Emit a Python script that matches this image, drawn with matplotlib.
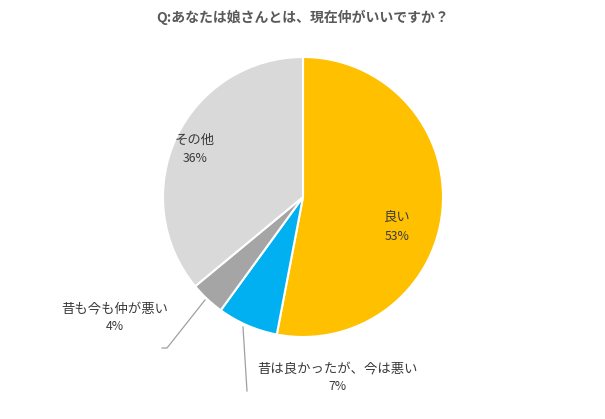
import matplotlib
matplotlib.use("Agg")
import matplotlib.pyplot as plt

plt.rcParams['font.family'] = ['Noto Sans CJK JP', 'DejaVu Sans']

categories = ["良い", "昔は良かったが、今は悪い", "昔も今も仲が悪い", "その他"]
values = [53, 7, 4, 36]
pct_labels = ["53%", "7%", "4%", "36%"]
colors = ["#FFC000", "#00B0F0", "#A5A5A5", "#D9D9D9"]
title = "Q:あなたは娘さんとは、現在仲がいいですか？"

W, H = 605, 419
fig = plt.figure(figsize=(W / 100, H / 100), dpi=100)
ax = fig.add_axes([0, 0, 1, 1])

cx, cy, r = 303, H - 197, 140
ax.pie(values, colors=colors, startangle=90, counterclock=False,
       center=(cx, cy), radius=r, frame=True,
       wedgeprops=dict(edgecolor='white', linewidth=1.5))
ax.set_xlim(0, W)
ax.set_ylim(0, H)
ax.set_aspect('equal')
ax.axis('off')

txt = "#3A3A3A"
fs = 9.6
# label positions (pixel coords from top)
pos = [(397, 217), (337, 368), (115, 308), (195, 140)]
for (x, y), cat, p in zip(pos, categories, pct_labels):
    ax.text(x, H - y, cat, ha='center', va='center', fontsize=fs, color=txt)
    ax.text(x, H - y - 19, p, ha='center', va='center', fontsize=fs - 0.8, color=txt)

# leader lines
ax.plot([205, 167, 162], [H - 300, H - 348, H - 348], color="#A0A0A0", lw=0.9)
ax.plot([243, 247], [H - 327, H - 391], color="#A0A0A0", lw=0.9)

ax.text(303, H - 17, title, ha='center', va='center', fontsize=10,
        fontweight='bold', color="#595959")

fig.savefig("out.png", dpi=100)
